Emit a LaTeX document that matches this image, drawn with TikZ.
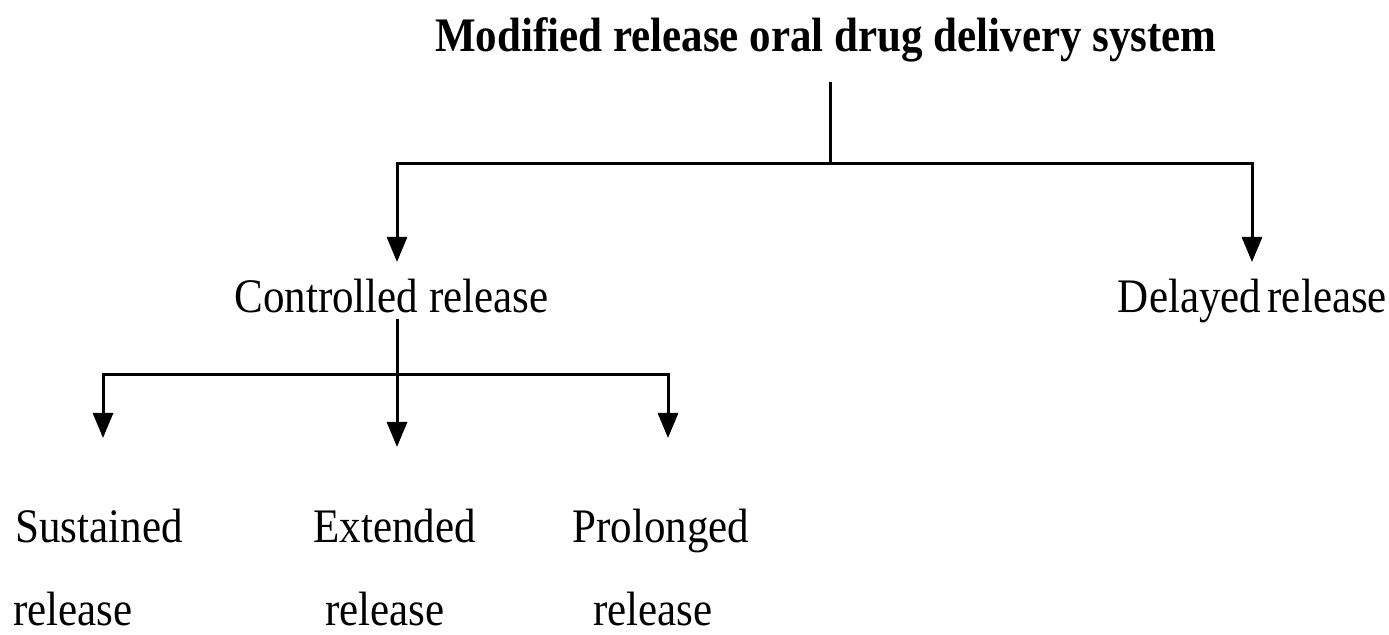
\documentclass[tikz,border=0pt]{standalone}
\usepackage{fontspec}
\setmainfont{Liberation Serif}
\usetikzlibrary{arrows.meta}
\tikzset{
  lbl/.style={inner sep=0pt, anchor=base, font=\fontsize{21.5}{24}\selectfont},
  lblw/.style={lbl, anchor=base west},
  ttl/.style={lbl, font=\fontsize{21.5}{24}\selectfont\bfseries},
  conn/.style={line width=1.5pt, black},
  arr/.style={conn, -{Triangle[width=10pt,length=12.5pt]}},
}
\newcommand{\st}[1]{\scalebox{1}[1.12]{#1}}
\begin{document}
\begin{tikzpicture}[x=0.5pt, y=-0.5pt]
\fill[white] (0,0) rectangle (1389,635);
\useasboundingbox (0,0) rectangle (1389,635);

% texts
\node[ttl] (title) at (826,52) {\st{Modified release oral drug delivery system}};
\node[lbl] (ctrl) at (391.5,313) {\st{Controlled release}};
\node[lbl] (dly) at (1252.5,313) {\st{Delayed\hspace{-0.1em} release}};
\node[lblw] (sus) at (15,543) {\st{Sustained}};
\node[lblw] (susr) at (13,626) {\st{release}};
\node[lblw] (ext) at (313,543) {\st{Extended}};
\node[lblw] (extr) at (325,626) {\st{release}};
\node[lblw] (pro) at (572,543) {\st{Prolonged}};
\node[lblw] (pror) at (593,626) {\st{release}};

% connector points
\coordinate (t0) at (830,82);
\coordinate (j1) at (830,164);
\coordinate (ctin) at (397,262);
\coordinate (dlin) at (1252,262);
\coordinate (c0) at (397,319);
\coordinate (j2) at (397,375);
\coordinate (sin) at (103,438);
\coordinate (ein) at (397,447);
\coordinate (pin) at (668,438);

% connectors
\draw[conn] (t0) -- (j1);
\draw[arr] (j1) -| (ctin);
\draw[arr] (j1) -| (dlin);
\draw[arr] (c0) -- (ein);
\draw[arr] (j2) -| (sin);
\draw[arr] (j2) -| (pin);
\end{tikzpicture}
\end{document}
